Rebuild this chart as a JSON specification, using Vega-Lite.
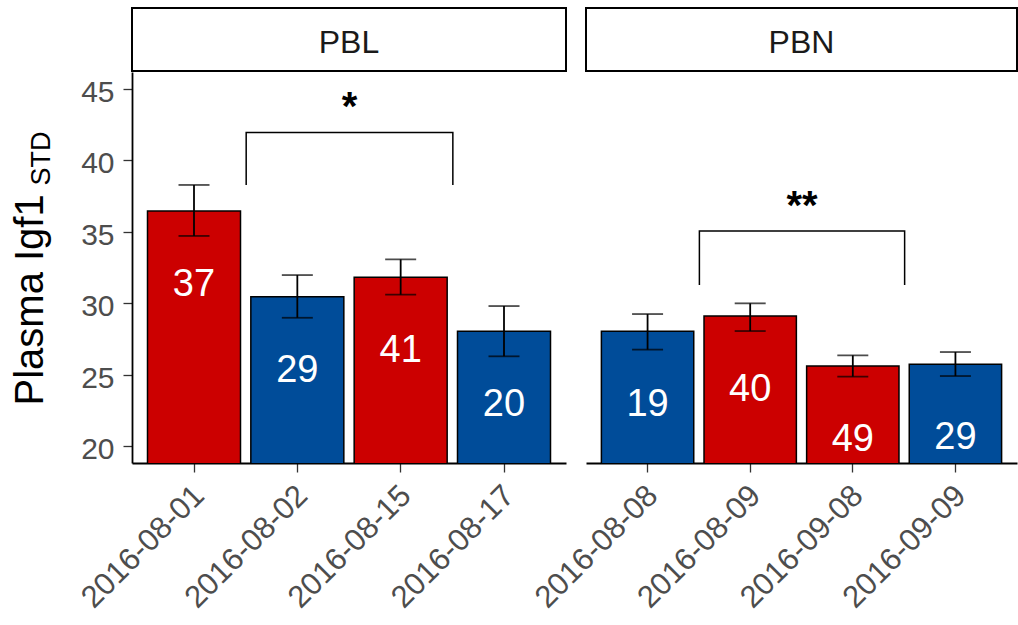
{
  "$schema": "https://vega.github.io/schema/vega-lite/v6.json",
  "padding": {"left": 10, "top": 7, "right": 0, "bottom": 5},
  "background": "white",
  "config": {"font": "Liberation Sans", "view": {"stroke": null}},
  "datasets": {
    "stats": [
      {"panel": "PBL", "date": "2016-08-01", "mean": 36.46, "lo": 34.71, "hi": 38.28, "n": 37, "group": "A"},
      {"panel": "PBL", "date": "2016-08-02", "mean": 30.46, "lo": 28.98, "hi": 31.97, "n": 29, "group": "B"},
      {"panel": "PBL", "date": "2016-08-15", "mean": 31.81, "lo": 30.6, "hi": 33.07, "n": 41, "group": "A"},
      {"panel": "PBL", "date": "2016-08-17", "mean": 28.03, "lo": 26.28, "hi": 29.8, "n": 20, "group": "B"},
      {"panel": "PBN", "date": "2016-08-08", "mean": 28.03, "lo": 26.75, "hi": 29.24, "n": 19, "group": "B"},
      {"panel": "PBN", "date": "2016-08-09", "mean": 29.1, "lo": 28.05, "hi": 29.99, "n": 40, "group": "A"},
      {"panel": "PBN", "date": "2016-09-08", "mean": 25.6, "lo": 24.86, "hi": 26.35, "n": 49, "group": "A"},
      {"panel": "PBN", "date": "2016-09-09", "mean": 25.72, "lo": 24.9, "hi": 26.58, "n": 29, "group": "B"}
    ],
    "brackets": [
      {"panel": "PBL", "date": "2016-08-02", "value": 38.28, "step": 1},
      {"panel": "PBL", "date": "2016-08-02", "value": 41.95, "step": 2},
      {"panel": "PBL", "date": "2016-08-17", "value": 41.95, "step": 3},
      {"panel": "PBL", "date": "2016-08-17", "value": 38.28, "step": 4},
      {"panel": "PBN", "date": "2016-08-09", "value": 31.27, "step": 1},
      {"panel": "PBN", "date": "2016-08-09", "value": 35.05, "step": 2},
      {"panel": "PBN", "date": "2016-09-09", "value": 35.05, "step": 3},
      {"panel": "PBN", "date": "2016-09-09", "value": 31.27, "step": 4}
    ],
    "stars": [
      {"panel": "PBL", "date": "2016-08-15", "value": 42.8, "label": "*"},
      {"panel": "PBN", "date": "2016-09-08", "value": 35.9, "label": "**"}
    ]
  },
  "bounds": "flush",
  "columns": 2,
  "spacing": {"row": 1, "column": 20},
  "concat": [
    {
      "width": 434, "height": 63,
      "data": {"values": [{"panel": "PBL"}]},
      "view": {"stroke": "black", "strokeWidth": 2, "fill": "white"},
      "mark": {"type": "text", "fontSize": 32, "color": "#1A1A1A", "baseline": "middle", "dy": 3},
      "encoding": {"text": {"field": "panel"}}
    },
    {
      "width": 431, "height": 63,
      "data": {"values": [{"panel": "PBN"}]},
      "view": {"stroke": "black", "strokeWidth": 2, "fill": "white"},
      "mark": {"type": "text", "fontSize": 32, "color": "#1A1A1A", "baseline": "middle", "dy": 3},
      "encoding": {"text": {"field": "panel"}}
    },
    {
      "width": 434, "height": 391,
      "resolve": {"axis": {"y": "independent"}},
      "layer": [
        {
          "data": {"name": "stats"},
          "transform": [{"filter": "datum.panel === 'PBL'"}],
          "mark": {"type": "bar", "stroke": "black", "strokeWidth": 1.5, "clip": true},
          "encoding": {
            "x": {"field": "date", "type": "nominal", "scale": {"paddingInner": 0.1, "paddingOuter": 0.15},
              "axis": {"title": null, "labelAngle": -45, "labelAlign": "right", "labelBaseline": "top", "labelFontSize": 31, "labelColor": "#4D4D4D", "labelPadding": 8, "labelOffset": -5, "labelOverlap": false, "labelLimit": 400, "tickSize": 9, "tickWidth": 1.3, "tickColor": "#333333", "domainColor": "black", "domainWidth": 1.8, "grid": false}},
            "y": {"field": "mean", "type": "quantitative", "scale": {"domain": [18.81, 46.19], "nice": false, "zero": false},
              "axis": {"title": "Plasma Igf1", "values": [20, 25, 30, 35, 40, 45], "grid": false, "domainColor": "black", "domainWidth": 1.8, "tickColor": "#333333", "tickSize": 9, "tickWidth": 1.3, "labelFontSize": 30, "labelColor": "#4D4D4D", "labelPadding": 9, "labelOffset": 3.5, "titleFontSize": 40, "titleFontWeight": "normal", "titleColor": "black", "titleAngle": 270, "titleAlign": "left", "titleBaseline": "alphabetic", "titleX": -90, "titleY": 333}},
            "color": {"field": "group", "type": "nominal", "scale": {"domain": ["A", "B"], "range": ["#CC0000", "#004C99"]}, "legend": null}
          }
        },
        {
          "data": {"name": "stats"},
          "transform": [{"filter": "datum.panel === 'PBL'"}],
          "mark": {"type": "rule", "color": "black", "strokeWidth": 1.8},
          "encoding": {
            "x": {"field": "date", "type": "nominal"},
            "y": {"field": "lo", "type": "quantitative", "scale": {"domain": [18.81, 46.19], "nice": false, "zero": false},
              "axis": {"orient": "left", "title": "STD", "labels": false, "ticks": false, "domain": false, "grid": false, "titleFontSize": 27, "titleFontWeight": "normal", "titleColor": "black", "titleAngle": 270, "titleAlign": "left", "titleBaseline": "alphabetic", "titleX": -82.5, "titleY": 113}},
            "y2": {"field": "hi"}
          }
        },
        {
          "data": {"name": "stats"},
          "transform": [{"filter": "datum.panel === 'PBL'"}],
          "mark": {"type": "tick", "color": "black", "size": 31, "thickness": 1.8},
          "encoding": {
            "x": {"field": "date", "type": "nominal"},
            "y": {"field": "lo", "type": "quantitative", "scale": {"domain": [18.81, 46.19], "nice": false, "zero": false}, "axis": null}
          }
        },
        {
          "data": {"name": "stats"},
          "transform": [{"filter": "datum.panel === 'PBL'"}],
          "mark": {"type": "tick", "color": "black", "size": 31, "thickness": 1.8},
          "encoding": {
            "x": {"field": "date", "type": "nominal"},
            "y": {"field": "hi", "type": "quantitative", "scale": {"domain": [18.81, 46.19], "nice": false, "zero": false}, "axis": null}
          }
        },
        {
          "data": {"name": "stats"},
          "transform": [{"filter": "datum.panel === 'PBL'"}],
          "mark": {"type": "text", "color": "white", "fontSize": 38, "baseline": "middle", "dy": 74},
          "encoding": {
            "x": {"field": "date", "type": "nominal"},
            "y": {"field": "mean", "type": "quantitative", "scale": {"domain": [18.81, 46.19], "nice": false, "zero": false}, "axis": null},
            "text": {"field": "n", "type": "quantitative"}
          }
        },
        {
          "data": {"name": "brackets"},
          "transform": [{"filter": "datum.panel === 'PBL'"}],
          "mark": {"type": "line", "color": "black", "strokeWidth": 1.5},
          "encoding": {
            "x": {"field": "date", "type": "nominal", "bandPosition": -0.05},
            "y": {"field": "value", "type": "quantitative", "scale": {"domain": [18.81, 46.19], "nice": false, "zero": false}, "axis": null},
            "order": {"field": "step", "type": "quantitative"}
          }
        },
        {
          "data": {"name": "stars"},
          "transform": [{"filter": "datum.panel === 'PBL'"}],
          "mark": {"type": "text", "color": "black", "fontSize": 40, "fontWeight": "bold", "baseline": "alphabetic"},
          "encoding": {
            "x": {"field": "date", "type": "nominal", "bandPosition": -0.05},
            "y": {"field": "value", "type": "quantitative", "scale": {"domain": [18.81, 46.19], "nice": false, "zero": false}, "axis": null},
            "text": {"field": "label"}
          }
        }
      ]
    },
    {
      "width": 431, "height": 391,
      "layer": [
        {
          "data": {"name": "stats"},
          "transform": [{"filter": "datum.panel === 'PBN'"}],
          "mark": {"type": "bar", "stroke": "black", "strokeWidth": 1.5, "clip": true},
          "encoding": {
            "x": {"field": "date", "type": "nominal", "scale": {"paddingInner": 0.1, "paddingOuter": 0.15},
              "axis": {"title": null, "labelAngle": -45, "labelAlign": "right", "labelBaseline": "top", "labelFontSize": 31, "labelColor": "#4D4D4D", "labelPadding": 8, "labelOffset": -5, "labelOverlap": false, "labelLimit": 400, "tickSize": 9, "tickWidth": 1.3, "tickColor": "#333333", "domainColor": "black", "domainWidth": 1.8, "grid": false}},
            "y": {"field": "mean", "type": "quantitative", "scale": {"domain": [18.81, 46.19], "nice": false, "zero": false}, "axis": null},
            "color": {"field": "group", "type": "nominal", "scale": {"domain": ["A", "B"], "range": ["#CC0000", "#004C99"]}, "legend": null}
          }
        },
        {
          "data": {"name": "stats"},
          "transform": [{"filter": "datum.panel === 'PBN'"}],
          "mark": {"type": "rule", "color": "black", "strokeWidth": 1.8},
          "encoding": {
            "x": {"field": "date", "type": "nominal"},
            "y": {"field": "lo", "type": "quantitative", "scale": {"domain": [18.81, 46.19], "nice": false, "zero": false}, "axis": null},
            "y2": {"field": "hi"}
          }
        },
        {
          "data": {"name": "stats"},
          "transform": [{"filter": "datum.panel === 'PBN'"}],
          "mark": {"type": "tick", "color": "black", "size": 31, "thickness": 1.8},
          "encoding": {
            "x": {"field": "date", "type": "nominal"},
            "y": {"field": "lo", "type": "quantitative", "scale": {"domain": [18.81, 46.19], "nice": false, "zero": false}, "axis": null}
          }
        },
        {
          "data": {"name": "stats"},
          "transform": [{"filter": "datum.panel === 'PBN'"}],
          "mark": {"type": "tick", "color": "black", "size": 31, "thickness": 1.8},
          "encoding": {
            "x": {"field": "date", "type": "nominal"},
            "y": {"field": "hi", "type": "quantitative", "scale": {"domain": [18.81, 46.19], "nice": false, "zero": false}, "axis": null}
          }
        },
        {
          "data": {"name": "stats"},
          "transform": [{"filter": "datum.panel === 'PBN'"}],
          "mark": {"type": "text", "color": "white", "fontSize": 38, "baseline": "middle", "dy": 74},
          "encoding": {
            "x": {"field": "date", "type": "nominal"},
            "y": {"field": "mean", "type": "quantitative", "scale": {"domain": [18.81, 46.19], "nice": false, "zero": false}, "axis": null},
            "text": {"field": "n", "type": "quantitative"}
          }
        },
        {
          "data": {"name": "brackets"},
          "transform": [{"filter": "datum.panel === 'PBN'"}],
          "mark": {"type": "line", "color": "black", "strokeWidth": 1.5},
          "encoding": {
            "x": {"field": "date", "type": "nominal", "bandPosition": -0.05},
            "y": {"field": "value", "type": "quantitative", "scale": {"domain": [18.81, 46.19], "nice": false, "zero": false}, "axis": null},
            "order": {"field": "step", "type": "quantitative"}
          }
        },
        {
          "data": {"name": "stars"},
          "transform": [{"filter": "datum.panel === 'PBN'"}],
          "mark": {"type": "text", "color": "black", "fontSize": 40, "fontWeight": "bold", "baseline": "alphabetic"},
          "encoding": {
            "x": {"field": "date", "type": "nominal", "bandPosition": -0.05},
            "y": {"field": "value", "type": "quantitative", "scale": {"domain": [18.81, 46.19], "nice": false, "zero": false}, "axis": null},
            "text": {"field": "label"}
          }
        }
      ]
    }
  ]
}
